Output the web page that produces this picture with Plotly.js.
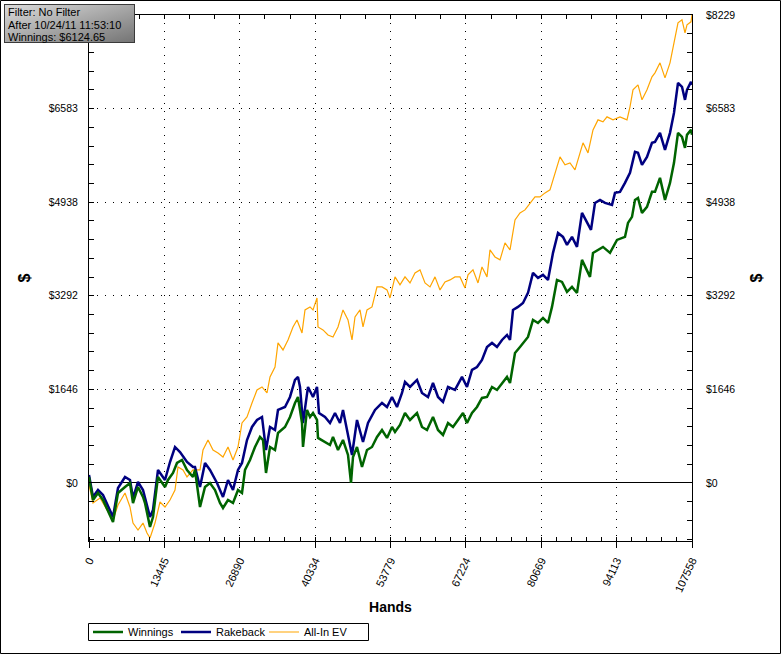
<!DOCTYPE html>
<html>
<head>
<meta charset="utf-8">
<script src="https://cdn.plot.ly/plotly-3.0.1.min.js"></script>
<style>html,body{margin:0;padding:0;background:#fff;}#chart{width:781px;height:654px;}</style>
</head>
<body>
<div id="chart"></div>
<script>
// ---- data ----
const winHands = [0,713,1605,2497,4281,5173,6421,7313,7848,8740,
9632,9989,10881,11416,12308,13556,14091,14983,15697,16588,
17480,18550,18907,19799,20691,21583,22475,23366,23902,24793,
25685,26577,27291,27826,28718,29609,30501,31036,31571,32285,
33177,33712,34961,35852,36744,37279,37993,38171,38885,39420,
39955,40668,40847,42095,42987,43522,44414,45306,46198,46733,
47090,47803,48695,49587,50479,51371,52262,53154,54046,54581,
55473,56365,57257,58505,59397,60289,61359,62251,63143,64035,
64927,65819,66710,67424,68316,69208,70099,70991,71883,72775,
73667,74559,75094,75986,76877,77413,78304,79196,80088,80980,
81872,82585,83477,84369,85261,86153,87045,87936,88829,89364,
89899,90791,91682,92931,94179,95606,96141,96854,97389,97925,
98638,99530,100422,100957,101849,102741,103633,104346,105060,105773,
106308,106665,107378,107558];
const winnings = [106,-299,-176,-299,-686,-176,-70,0,-352,-70,
-246,-352,-774,-598,106,-70,53,176,352,405,
229,106,229,-422,-70,0,-123,-352,-440,-299,
-352,-123,-176,229,405,633,809,756,176,633,
580,880,985,1161,1407,1513,1055,633,1284,1161,
1231,1108,792,721,668,809,580,756,493,0,
457,633,281,580,633,809,932,792,985,897,
1020,1231,1108,1231,985,932,1161,932,844,1055,
985,1108,1231,1055,1231,1337,1495,1513,1689,1636,
1759,1865,1759,2287,2392,2463,2568,2867,2814,2902,
2814,3096,3571,3536,3360,3448,3342,3923,3747,3624,
4046,4098,4151,4046,4274,4327,4573,4679,4978,5013,
4749,4855,5119,5119,5365,4978,5277,5629,6157,6086,
5893,6121,6209,6125];

const rbHands = [0,713,1605,2497,4281,5173,6421,7313,7848,8740,
9632,9989,10881,11416,12308,13556,14448,15340,16231,17480,
18550,18907,19799,20691,21583,22831,23902,24793,25685,26577,
27291,28182,29074,29966,30858,31571,32285,33177,33712,34961,
35852,36744,37279,37636,38171,39063,39955,40668,41025,42095,
42987,43879,44771,45306,46198,46911,47803,48873,49765,51014,
52262,53154,54046,54938,55830,56365,57257,58505,59397,60467,
61359,62251,63143,64035,65283,66532,67424,68316,69208,70099,
70991,71883,72775,73667,74559,75094,75629,76521,77413,78304,
79196,80088,80980,81872,82764,83656,84547,85261,86153,87045,
87936,88829,89542,90255,91147,92039,93288,93824,94713,95606,
96497,97389,97925,98638,99530,100422,100957,101849,102741,103633,
104346,105060,105773,106308,106665,107378,107558];
const rakeback = [141,-246,-123,-211,-598,-88,106,53,-264,18,
-123,-246,-598,-475,229,53,369,633,545,369,
281,281,-70,352,229,0,-246,53,-123,229,
352,756,985,1108,1161,580,985,932,1284,1337,
1513,1812,1865,1689,1055,1689,1513,1689,1231,1161,
1055,1231,1055,1284,809,493,1108,721,1055,1284,
1407,1337,1513,1337,1583,1777,1689,1812,1583,1513,
1759,1513,1425,1689,1636,1865,1689,1988,2040,2164,
2392,2463,2392,2515,2603,2515,3043,3096,3166,3342,
3694,3606,3659,3571,4046,4398,4327,4186,4327,4151,
4749,4573,4450,4925,4978,4925,4890,5101,5119,5277,
5453,5822,5805,5594,5734,5981,5998,6157,5857,6157,
6508,7036,6966,6737,6913,7054,7001];

const evHands = [0,713,1962,4281,5173,6421,7313,7848,8740,9632,
10345,10881,11772,12664,13556,14448,15340,15875,16767,17480,
18550,19799,20334,21226,22118,23010,23902,24793,25685,26577,
27291,28182,29074,29966,30858,31750,32285,33177,33712,34604,
35496,36387,37101,37636,37993,38528,39420,39955,40668,40847,
41739,42631,43522,44414,45306,46198,46911,47446,48338,48873,
49587,50479,51371,52262,53154,53689,54581,55473,56365,57257,
58149,59040,59932,60824,61716,62608,63500,64392,65283,66175,
67067,67602,68494,69386,70099,70991,71526,72418,73310,74202,
75094,75986,76877,77769,78661,79553,80445,81337,82229,83120,
84012,84904,85796,86688,87580,88115,89007,89899,90791,91682,
92396,93466,94713,95962,96497,97033,97925,98638,99530,100422,
100957,101849,102741,103633,104346,105060,105773,106308,106665,107378,
107558];
const allInEV = [-35,-352,-264,-651,-387,-176,-422,-704,-827,-704,
-880,-967,-704,-334,-422,-299,-123,281,229,106,
229,229,580,756,580,528,457,633,405,633,
1055,1161,1407,1636,1689,1583,1865,2040,2463,2339,
2515,2744,2867,2726,2639,3043,3096,3043,3254,2744,
2691,2603,2568,2744,3043,2867,2515,2920,3043,2744,
3043,3096,3448,3448,3395,3254,3624,3483,3624,3518,
3694,3747,3518,3448,3624,3395,3536,3571,3624,3624,
3430,3659,3747,3518,3799,3624,4098,3975,3923,4222,
4098,4626,4749,4802,4925,5031,5031,5101,5154,5453,
5734,5594,5629,5506,5805,5981,5805,6209,6385,6350,
6438,6385,6438,6385,6614,6913,7001,6737,6913,7142,
7212,7388,7124,7388,7740,8091,8144,7916,8056,8109,
8229];

const seriesNames = ['Winnings','Rakeback','All-In EV'];
const handTicks = [0,13445,26890,40334,53779,67224,80669,94113,107558];
const dollarTicks = [0,1645.8,3291.6,4937.4,6583.2,8229];
const dollarLabels = ['$0','$1646','$3292','$4938','$6583','$8229'];
const infoLines = ['Filter: No Filter','After 10/24/11 11:53:10','Winnings: $6124.65'];

// ---- chart ----
const F = 'Liberation Sans, Arial, sans-serif';
const xRange = [0,107558];
const yRange = [-1020,8229];

const traces = [
  {x: evHands, y: allInEV, name: seriesNames[2], type:'scatter', mode:'lines',
   line:{color:'#FFA500', width:1.2}},
  {x: rbHands, y: rakeback, name: seriesNames[1], type:'scatter', mode:'lines',
   line:{color:'#000080', width:2.5}},
  {x: winHands, y: winnings, name: seriesNames[0], type:'scatter', mode:'lines',
   line:{color:'#006400', width:2.5}},
  // invisible carriers so that the right and top axes are drawn
  {x: winHands, y: winnings, xaxis:'x', yaxis:'y2', type:'scatter', mode:'lines',
   line:{color:'rgba(0,0,0,0)', width:0}, showlegend:false, hoverinfo:'skip'},
  {x: winHands, y: winnings, xaxis:'x3', yaxis:'y', type:'scatter', mode:'lines',
   line:{color:'rgba(0,0,0,0)', width:0}, showlegend:false, hoverinfo:'skip'}
];

const gridDash = '1px,7px';
const L = 89, T = 15, PW = 603, PH = 526;
const px2x = p => (p - L) / PW;
const py2y = p => (T + PH - p) / PH;

const svg = "<svg xmlns='http://www.w3.org/2000/svg' width='131' height='39'><defs><linearGradient id='g' x1='0' y1='0' x2='1' y2='1'><stop offset='0' stop-color='#dcdcdc'/><stop offset='1' stop-color='#747474'/></linearGradient></defs><rect x='0.5' y='0.5' width='130' height='38' fill='url(#g)' stroke='#3a3a3a' stroke-width='1'/></svg>";

const infoY = [12, 24.5, 37];
const infoAnn = infoLines.map((t, i) => ({xref:'paper', yref:'paper', x:px2x(7), y:py2y(infoY[i]),
  xanchor:'left', yanchor:'middle', showarrow:false, align:'left', text:t,
  font:{family:F, size:11, color:'#000'}, borderpad:0}));

const axisCommon = {automargin:false, fixedrange:true};

const layout = {
  width:781, height:654,
  margin:{l:L, r:781-L-PW, t:T, b:654-T-PH, pad:0, autoexpand:false},
  paper_bgcolor:'#fff', plot_bgcolor:'#fff',
  hovermode:false,
  showlegend:true,
  legend:{orientation:'h', x:px2x(88), xanchor:'left', y:py2y(632), yanchor:'middle',
    borderwidth:0, bgcolor:'rgba(0,0,0,0)', traceorder:'reversed',
    entrywidth:43, entrywidthmode:'pixels', font:{family:F, size:11, color:'#000'},
    tracegroupgap:0, itemwidth:30},
  font:{family:F, size:11, color:'#000'},
  xaxis:Object.assign({range:xRange, tickmode:'array', tickvals:handTicks, ticktext:handTicks.map(String),
    tickangle:-65, tickfont:{family:F, size:11, color:'#000'},
    ticks:'outside', ticklen:6, tickcolor:'#000', tickwidth:1, ticklabelstandoff:2,
    minor:{tickmode:'linear', tick0:0, dtick:2689, ticks:'inside', ticklen:4, tickcolor:'#000', showgrid:false},
    showgrid:true, gridcolor:'#000', griddash:gridDash, gridwidth:1,
    showline:true, linecolor:'#000', linewidth:1, mirror:true, zeroline:false,
    title:{text:'Hands', font:{family:F, size:14, color:'#000', weight:'bold'}, standoff:9}}, axisCommon),
  xaxis3:Object.assign({overlaying:'x', side:'top', anchor:'y', range:xRange, tickmode:'linear', tick0:0, dtick:4481.6,
    ticks:'inside', ticklen:4, tickcolor:'#000', showticklabels:false, showgrid:false, zeroline:false,
    showline:false}, axisCommon),
  yaxis:Object.assign({range:yRange, tickmode:'array', tickvals:dollarTicks, ticktext:dollarLabels.slice(0,5).concat(['']),
    tickfont:{family:F, size:10.5, color:'#000'},
    ticks:'inside', ticklen:5, tickcolor:'#000', ticklabelstandoff:8,
    minor:{tickmode:'linear', tick0:0, dtick:329.16, ticks:'inside', ticklen:5, tickcolor:'#000', showgrid:false},
    showgrid:true, gridcolor:'#000', griddash:gridDash, gridwidth:1,
    zeroline:true, zerolinecolor:'#000', zerolinewidth:1,
    showline:true, linecolor:'#000', linewidth:1, mirror:true,
    title:{text:'$', font:{family:F, size:16, color:'#000', weight:'bold'}, standoff:14}}, axisCommon),
  yaxis2:Object.assign({overlaying:'y', side:'right', anchor:'x', range:yRange, tickmode:'array', tickvals:dollarTicks, ticktext:dollarLabels,
    tickfont:{family:F, size:10.5, color:'#000'},
    ticks:'inside', ticklen:5, tickcolor:'#000', ticklabelstandoff:13,
    minor:{tickmode:'linear', tick0:0, dtick:329.16, ticks:'inside', ticklen:5, tickcolor:'#000', showgrid:false},
    showgrid:false, zeroline:false, showline:false,
    title:{text:'$', font:{family:F, size:16, color:'#000', weight:'bold'}, standoff:16}}, axisCommon),
  images:[{source:'data:image/svg+xml;utf8,' + encodeURIComponent(svg),
    xref:'paper', yref:'paper', x:px2x(4), y:py2y(4), sizex:131/PW, sizey:39/PH,
    xanchor:'left', yanchor:'top', sizing:'stretch', layer:'above'}],
  annotations:infoAnn,
  shapes:[
    {type:'rect', xref:'paper', yref:'paper', x0:px2x(0.5), x1:px2x(780.5), y0:py2y(653.5), y1:py2y(0.5),
     line:{color:'#000', width:1}, fillcolor:'rgba(0,0,0,0)', layer:'above'},
    {type:'rect', xref:'paper', yref:'paper', x0:px2x(88.5), x1:px2x(368.5), y0:py2y(640.5), y1:py2y(623.5),
     line:{color:'#000', width:1}, fillcolor:'rgba(0,0,0,0)', layer:'above'}
  ]
};

Plotly.newPlot('chart', traces, layout, {displayModeBar:false, staticPlot:true});
</script>
</body>
</html>
